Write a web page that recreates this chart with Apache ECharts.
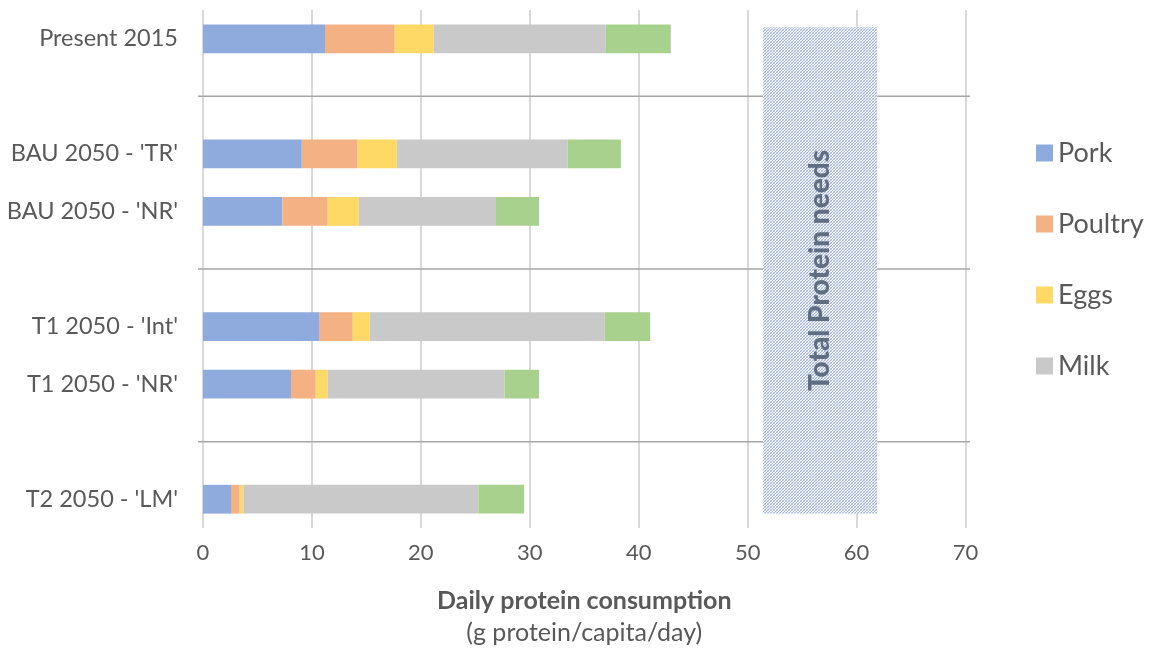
<!DOCTYPE html>
<html><head><meta charset="utf-8">
<script src="https://cdn.jsdelivr.net/npm/echarts@6/dist/echarts.min.js"></script>
<style>html,body{margin:0;padding:0;background:#fff}#c{width:1152px;height:648px}</style>
</head><body><div id="c"></div>
<script>
// ---- data ----
const scenarios = ['Present 2015', "BAU 2050 - 'TR'", "BAU 2050 - 'NR'", "T1 2050 - 'Int'", "T1 2050 - 'NR'", "T2 2050 - 'LM'"];
const groups = [[0], [1, 2], [3, 4], [5]];
const pork    = [11.2, 9.07, 7.29, 10.71, 8.08, 2.57];
const poultry = [6.4, 5.13, 4.16, 3.04, 2.27, 0.8];
const eggs    = [3.58, 3.59, 2.85, 1.56, 1.1, 0.34];
const milk    = [15.8, 15.67, 12.6, 21.58, 16.25, 21.58];
const other   = [5.96, 4.9, 3.95, 4.16, 3.15, 4.19];
const seriesNames = ['Pork', 'Poultry', 'Eggs', 'Milk', 'Other'];
const legendNames = ['Pork', 'Poultry', 'Eggs', 'Milk'];
const xTicks = [0, 10, 20, 30, 40, 50, 60, 70];
const needsX = [51.4, 61.9];      // Total protein needs band (g/capita/day)
const needsSlots = [0.3, 8.75];   // vertical extent in category-slot units
const needsLabel = 'Total Protein needs';
const axisTitle = 'Daily protein consumption';
const axisSubtitle = '(g protein/capita/day)';

// ---- build slots (with gaps between groups) ----
const slots = [];
const slotOf = {};
const gapSlots = [];
groups.forEach((g, gi) => {
  if (gi > 0) { gapSlots.push(slots.length); slots.push(' '.repeat(gi)); }
  g.forEach(si => { slotOf[si] = slots.length; slots.push(scenarios[si]); });
});
function toSlots(arr) {
  const out = slots.map(() => null);
  arr.forEach((v, i) => { out[slotOf[i]] = v; });
  return out;
}
const values = [pork, poultry, eggs, milk, other];
const colors = ['#8faadc', '#f4b183', '#ffd966', '#c9c9c9', '#a9d18e'];

// hatch pattern
const pc = document.createElement('canvas');
pc.width = 3; pc.height = 3;
const g2 = pc.getContext('2d');
g2.fillStyle = '#f4f6fc'; g2.fillRect(0, 0, 3, 3);
g2.fillStyle = '#a3b5dc';
g2.fillRect(2, 0, 1, 1); g2.fillRect(1, 1, 1, 1); g2.fillRect(0, 2, 1, 1);
g2.fillStyle = '#c9d3ea';
g2.fillRect(0, 0, 1, 1); g2.fillRect(2, 2, 1, 1);

const FONT = 'Lato';
const xMin = xTicks[0], xMax = xTicks[xTicks.length - 1];
const chart = echarts.init(document.getElementById('c'));
const barSeries = values.map((arr, k) => ({
  name: seriesNames[k], type: 'bar', stack: 'total', barWidth: '50%',
  data: toSlots(arr), itemStyle: { color: colors[k] }, z: 3
}));
chart.setOption({
  animation: false,
  textStyle: { fontFamily: FONT },
  grid: { left: 203, right: 186.5, top: 10, bottom: 120, outerBoundsMode: 'none', containLabel: false },
  legend: {
    data: legendNames, orient: 'vertical', left: 1036, top: 139.5, padding: 0,
    itemWidth: 17, itemHeight: 17, itemGap: 44, icon: 'rect',
    textStyle: { fontSize: 27, color: '#595959', fontFamily: FONT, lineHeight: 27 }
  },
  xAxis: {
    type: 'value', min: xMin, max: xMax, interval: xTicks[1] - xTicks[0],
    axisLine: { show: false }, axisTick: { show: false },
    axisLabel: { fontSize: 22, color: '#595959', margin: 14, fontFamily: FONT },
    splitLine: { lineStyle: { color: '#d9d9d9', width: 2 } },
    name: '{b|' + axisTitle + '}\n{n|' + axisSubtitle + '}',
    nameLocation: 'middle', nameGap: 57,
    nameTextStyle: {
      rich: {
        b: { fontSize: 25, fontWeight: 'bold', color: '#595959', fontFamily: FONT, lineHeight: 32 },
        n: { fontSize: 25, color: '#595959', fontFamily: FONT, lineHeight: 32 }
      }
    }
  },
  yAxis: [{
    type: 'category', data: slots, inverse: true,
    axisLine: { show: false }, axisTick: { show: false },
    axisLabel: { fontSize: 23.5, color: '#595959', margin: 25, fontFamily: FONT },
    splitLine: { show: false }
  }, {
    type: 'value', min: 0, max: slots.length, inverse: true, show: false,
    splitLine: { show: false }
  }],
  series: barSeries.concat([{
    name: 'separators', type: 'custom', xAxisIndex: 0, yAxisIndex: 0, silent: true, z: 1,
    encode: { x: 0, y: 1 },
    data: gapSlots.map(s => [xMin, s]),
    renderItem: function (params, api) {
      const p0 = api.coord([xMin, api.value(1)]);
      const p1 = api.coord([xMax, api.value(1)]);
      return {
        type: 'line',
        shape: { x1: p0[0] - 5, y1: p0[1], x2: p1[0] + 4.5, y2: p1[1] },
        style: { stroke: '#a6a6a6', lineWidth: 1.5 }
      };
    }
  }, {
    name: 'needs', type: 'scatter', xAxisIndex: 0, yAxisIndex: 1,
    data: [[(needsX[0] + needsX[1]) / 2, (needsSlots[0] + needsSlots[1]) / 2]], symbolSize: 0, silent: true, z: 6,
    label: {
      show: true, position: 'inside', rotate: 90, formatter: needsLabel,
      fontSize: 28, fontWeight: 900, color: '#44546a', fontFamily: FONT
    },
    markArea: {
      silent: true, z: 5,
      itemStyle: { color: { image: pc, repeat: 'repeat' } },
      data: [[{ xAxis: needsX[0], yAxis: needsSlots[0] }, { xAxis: needsX[1], yAxis: needsSlots[1] }]]
    }
  }])
});
</script></body></html>
